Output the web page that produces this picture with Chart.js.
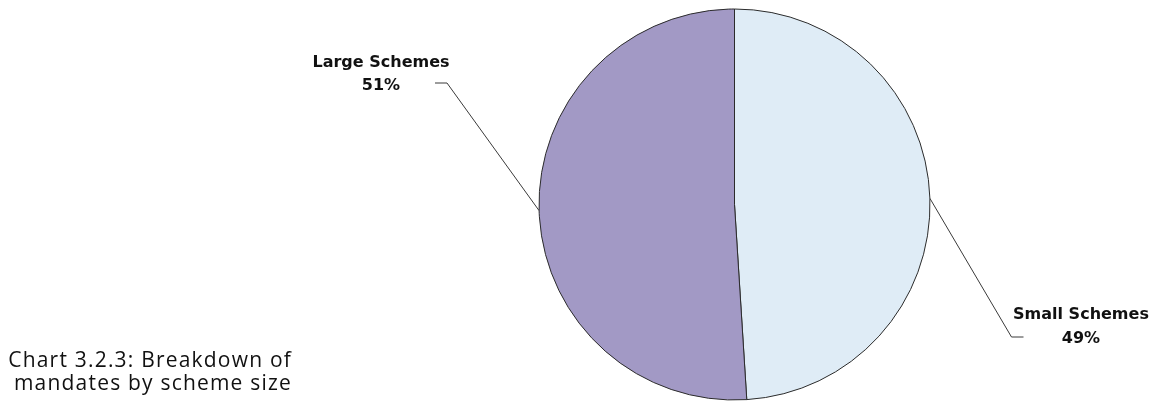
<!DOCTYPE html>
<html>
<head>
<meta charset="utf-8">
<script src="https://cdn.jsdelivr.net/npm/chart.js@4"></script>
<style>
    html, body { margin: 0; padding: 0; background: #fff; }
    #wrap { position: relative; width: 1161px; height: 405px; }
</style>
</head>
<body>
<div id="wrap"><canvas id="chart" width="1161" height="405"></canvas></div>
<script>
// Mandates split by scheme size (percent)
const categories = ['Small Schemes', 'Large Schemes'];
const shares = [49, 51];
const sliceColors = ['#DFECF6', '#A299C5'];
const captionLines = ['Chart 3.2.3: Breakdown of', 'mandates by scheme size'];

// where each callout bends, relative to the pie centre, and which side the tail goes
const callouts = [
    { dx: 277, dy: 132.5, tail: 12, textX: 1081, textY: 315 },
    { dx: -287.5, dy: -121.5, tail: -12, textX: 381, textY: 62.5 }
];

const calloutPlugin = {
    id: 'callouts',
    afterDatasetsDraw(chart) {
        const ctx = chart.ctx;
        const arcs = chart.getDatasetMeta(0).data;
        arcs.forEach((arc, i) => {
            const c = callouts[i];
            const mid = (arc.startAngle + arc.endAngle) / 2;
            const sx = arc.x + Math.cos(mid) * arc.outerRadius;
            const sy = arc.y + Math.sin(mid) * arc.outerRadius;
            const ex = arc.x + c.dx;
            const ey = arc.y + c.dy;
            ctx.save();
            ctx.strokeStyle = '#3a3a3a';
            ctx.lineWidth = 1;
            ctx.beginPath();
            ctx.moveTo(sx, sy);
            ctx.lineTo(ex, ey);
            ctx.lineTo(ex + c.tail, ey);
            ctx.stroke();

            ctx.fillStyle = '#111';
            ctx.font = 'bold 16px "DejaVu Sans"';
            ctx.textAlign = 'center';
            ctx.textBaseline = 'middle';
            ctx.fillText(categories[i], c.textX, c.textY);
            ctx.fillText(shares[i] + '%', c.textX, c.textY + 23.5);
            ctx.restore();
        });

        // caption, right aligned in the lower left corner
        ctx.save();
        ctx.fillStyle = '#111';
        ctx.font = '21px "Open Sans"';
        ctx.letterSpacing = '1.2px';
        ctx.textAlign = 'right';
        ctx.textBaseline = 'alphabetic';
        captionLines.forEach((line, i) => {
            ctx.fillText(line, 292, 367 + i * 23);
        });
        ctx.restore();
    }
};

const config = {
    type: 'pie',
    data: {
        labels: categories,
        datasets: [{
            data: shares,
            backgroundColor: sliceColors,
            borderColor: '#2b2b2b',
            borderWidth: 1
        }]
    },
    options: {
        responsive: false,
        animation: false,
        layout: {
            padding: { top: 8.5, bottom: 4.5, left: 538.5, right: 230.5 }
        },
        plugins: {
            legend: { display: false },
            tooltip: { enabled: false }
        }
    },
    plugins: [calloutPlugin]
};

const myChart = new Chart(document.getElementById('chart'), config);
</script>
</body>
</html>
